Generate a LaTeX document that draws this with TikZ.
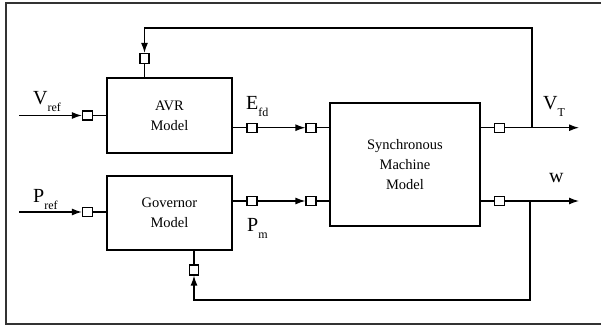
\documentclass[tikz,border=0pt]{standalone}
\usepackage{fontspec}
\setmainfont{Liberation Serif}
\usetikzlibrary{arrows.meta}
\newcommand{\sglbl}[2]{\fontsize{20}{20}\selectfont #1\raisebox{-7pt}{\fontsize{12}{12}\selectfont #2}}
\begin{document}
\begin{tikzpicture}[x=1pt,y=-1pt,
  blk/.style={draw,line width=1.3pt,minimum width=125pt,align=center,inner sep=0pt,font=\fontsize{14.5}{20}\selectfont},
  hport/.style={draw,line width=1.2pt,fill=white,minimum width=10pt,minimum height=9pt,inner sep=0pt},
  vport/.style={draw,line width=1.2pt,fill=white,minimum width=9pt,minimum height=10pt,inner sep=0pt},
  wire/.style={line width=1.3pt},
  sig/.style={wire,-{Latex[length=10pt,width=7pt]}},
  lab/.style={inner sep=0pt,anchor=base west}]
\useasboundingbox (0,0) rectangle (601,327);
\draw[line width=1.6pt,black!80] (601,3) -- (6,3) -- (6,324) -- (601,324);
% blocks
\node[blk,minimum height=75pt] (avr) at (169.5,115.5) {AVR\\Model};
\node[blk,minimum height=74pt] (gov) at (169.5,213) {Governor\\Model};
\node[blk,minimum width=150pt,minimum height=123pt] (sm) at (405,164.5) {Synchronous\\Machine\\Model};
% ports
\node[hport] (pv) at (87.5,115.5) {};
\node[vport] (pa) at (144.5,58.5) {};
\node[hport] (pe) at (252,127.7) {};
\node[hport] (ps1) at (311,127.7) {};
\node[hport] (po1) at (499.5,127.7) {};
\node[hport] (pp) at (87.5,212) {};
\node[hport] (pg) at (252,201) {};
\node[hport] (ps2) at (311,201) {};
\node[hport] (po2) at (499.5,201) {};
\node[vport] (pb) at (194,270) {};
% free ends and bends
\coordinate (vin) at (19,115.5);
\coordinate (pin) at (19,212);
\coordinate (vt) at (579,127.7);
\coordinate (wout) at (579,201);
\coordinate (j1) at (532,127.7);
\coordinate (j2) at (530,201);
\coordinate (tr) at (532,28);
\coordinate (tl) at (144.5,28);
\coordinate (br) at (530,300);
\coordinate (bl) at (194,300);
% wires
\draw[sig] (vin) -- (pv.west);
\draw[wire] (pv.east) -- (avr.west |- pv.east);
\draw[wire] (pa.south) -- (pa.south |- avr.north);
\draw[sig] (j1) -- (tr) -- (tl) -- (pa.north);
\draw[wire] (avr.east |- pe) -- (pe.west);
\draw[sig] (pe.east) -- (ps1.west);
\draw[wire] (ps1.east) -- (sm.west |- ps1);
\draw[wire] (sm.east |- po1) -- (po1.west);
\draw[sig] (po1.east) -- (vt);
\draw[sig] (pin) -- (pp.west);
\draw[wire] (pp.east) -- (gov.west |- pp.east);
\draw[wire] (gov.east |- pg) -- (pg.west);
\draw[sig] (pg.east) -- (ps2.west);
\draw[wire] (ps2.east) -- (sm.west |- ps2);
\draw[wire] (sm.east |- po2) -- (po2.west);
\draw[sig] (po2.east) -- (wout);
\draw[sig] (j2) -- (br) -- (bl) -- (pb.south);
\draw[wire] (pb.north) -- (pb.north |- gov.south);
% labels
\node[lab] (lv) at (33,104) {\sglbl{V}{ref}};
\node[lab] (le) at (246,109) {\sglbl{E}{fd}};
\node[lab] (lt) at (543,109) {\sglbl{V}{T}};
\node[lab] (lp) at (33,202) {\sglbl{P}{ref}};
\node[lab] (lm) at (247,231) {\sglbl{P}{m}};
\node[lab] (lw) at (549,182) {\fontsize{20}{20}\selectfont w};
\end{tikzpicture}
\end{document}
